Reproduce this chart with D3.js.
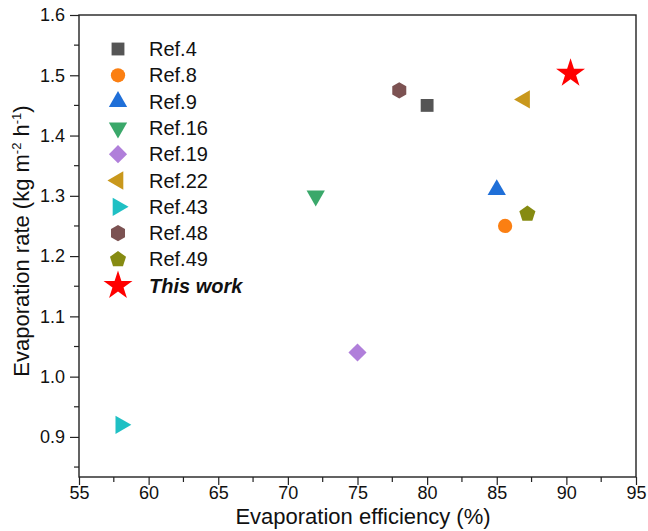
<!DOCTYPE html>
<html lang="en">
  <head>
    <meta charset="utf-8">
    <title>Evaporation rate vs efficiency</title>
    <script src="https://cdn.jsdelivr.net/npm/d3@7"></script>
    <style>
      body { margin: 0; background: #fff; }
      svg text { font-family: "Liberation Sans", Arial, sans-serif; fill: #111; }
      .axis path, .axis line { stroke: #222; stroke-width: 1.2px; }
      .axis text { font-size: 18px; }
    </style>
  </head>
  <body>
    <svg id="chart" width="648" height="531"></svg>
    <script>
      // data
      var labels = ["Ref.4", "Ref.8", "Ref.9", "Ref.16", "Ref.19", "Ref.22", "Ref.43", "Ref.48", "Ref.49", "This work"];
      var efficiency = [80, 85.6, 85, 72, 75, 87, 58, 78, 87.2, 90.3];
      var rate = [1.45, 1.25, 1.31, 1.30, 1.04, 1.46, 0.92, 1.475, 1.27, 1.503];
      var colors = ["#555555", "#fb7f12", "#1f6fd8", "#3aa86a", "#b07fda", "#c9981c", "#1fc0c4", "#7c5252", "#868b12", "#ff0000"];
      var shapes = ["square", "circle", "up", "down", "diamond", "left", "right", "hexagon", "pentagon", "star"];
      var xTicks = [55, 60, 65, 70, 75, 80, 85, 90, 95];
      var yTicks = [0.9, 1.0, 1.1, 1.2, 1.3, 1.4, 1.5, 1.6];

      var margin = {top: 15, right: 12, bottom: 54, left: 79},
          width = 648 - margin.left - margin.right,
          height = 531 - margin.top - margin.bottom;

      var svg = d3.select("#chart");
      var g = svg.append("g")
          .attr("transform", "translate(" + margin.left + "," + margin.top + ")");

      var x = d3.scaleLinear().domain([55, 95]).range([0, width]);
      var y = d3.scaleLinear().domain([0.8335, 1.6]).range([height, 0]);

      // custom polygon symbols
      function polygon(n, rot) {
        return {
          draw: function(ctx, size) {
            var r = Math.sqrt(size / (0.5 * n * Math.sin(2 * Math.PI / n)));
            for (var i = 0; i < n; i++) {
              var a = rot + i * 2 * Math.PI / n;
              if (i === 0) ctx.moveTo(r * Math.cos(a), r * Math.sin(a));
              else ctx.lineTo(r * Math.cos(a), r * Math.sin(a));
            }
            ctx.closePath();
          }
        };
      }

      var symbolDefs = {
        square:   {type: d3.symbolSquare, size: 165, rot: 0},
        circle:   {type: d3.symbolCircle, size: 160, rot: 0},
        up:       {type: d3.symbolTriangle, size: 145, rot: 0},
        down:     {type: d3.symbolTriangle, size: 145, rot: 180},
        diamond:  {type: d3.symbolSquare, size: 165, rot: 45},
        left:     {type: d3.symbolTriangle, size: 145, rot: -90},
        right:    {type: d3.symbolTriangle, size: 145, rot: 90},
        hexagon:  {type: polygon(6, Math.PI / 2), size: 170, rot: 0},
        pentagon: {type: polygon(5, -Math.PI / 2), size: 170, rot: 0},
        star:     {type: d3.symbolStar, size: 260, rot: 0}
      };

      function drawSymbol(sel, i) {
        var s = symbolDefs[shapes[i]];
        sel.attr("d", d3.symbol().type(s.type).size(s.size)())
          .attr("fill", colors[i]);
        return s.rot;
      }

      // frame
      g.append("rect")
          .attr("width", width).attr("height", height)
          .attr("fill", "none").attr("stroke", "#222").attr("stroke-width", 1.4);

      // minor ticks
      var xMinor = d3.range(57.5, 95, 5);
      g.selectAll(".xminor").data(xMinor).enter().append("line")
          .attr("x1", function(d) { return x(d); }).attr("x2", function(d) { return x(d); })
          .attr("y1", height).attr("y2", height + 5)
          .attr("stroke", "#222").attr("stroke-width", 1.2);
      var yMinor = d3.range(0.85, 1.6, 0.1);
      g.selectAll(".yminor").data(yMinor).enter().append("line")
          .attr("x1", -5).attr("x2", 0)
          .attr("y1", function(d) { return y(d); }).attr("y2", function(d) { return y(d); })
          .attr("stroke", "#222").attr("stroke-width", 1.2);

      g.append("g").attr("class", "axis")
          .attr("transform", "translate(0," + height + ")")
          .call(d3.axisBottom(x).tickValues(xTicks).tickSize(8).tickPadding(1).tickSizeOuter(0))
          .call(function(a) { a.select(".domain").remove(); });

      g.append("g").attr("class", "axis")
          .call(d3.axisLeft(y).tickValues(yTicks).tickFormat(d3.format(".1f")).tickSize(9).tickPadding(5).tickSizeOuter(0))
          .call(function(a) { a.select(".domain").remove(); });

      // points
      efficiency.forEach(function(e, i) {
        var p = g.append("path");
        var rot = drawSymbol(p, i);
        p.attr("transform", "translate(" + x(e) + "," + y(rate[i]) + ") rotate(" + rot + ")");
      });

      // legend
      var legend = g.append("g").attr("transform", "translate(39,34)");
      labels.forEach(function(l, i) {
        var row = legend.append("g").attr("transform", "translate(0," + (i * 26.3) + ")");
        var p = row.append("path");
        var rot = drawSymbol(p, i);
        p.attr("transform", "rotate(" + rot + ")");
        row.append("text")
            .attr("x", 31).attr("y", 7)
            .style("font-size", "20px")
            .style("font-weight", i === labels.length - 1 ? "bold" : "normal")
            .style("font-style", i === labels.length - 1 ? "italic" : "normal")
            .text(l);
      });

      // axis titles
      svg.append("text")
          .attr("x", 363).attr("y", 524)
          .attr("text-anchor", "middle")
          .style("font-size", "22px")
          .text("Evaporation efficiency (%)");

      var yt = svg.append("text")
          .attr("transform", "translate(29,241) rotate(-90)")
          .attr("text-anchor", "middle")
          .style("font-size", "22px");
      yt.append("tspan").text("Evaporation rate (kg m");
      yt.append("tspan").attr("dy", -8).style("font-size", "13px").text("-2");
      yt.append("tspan").attr("dy", 8).text(" h");
      yt.append("tspan").attr("dy", -8).style("font-size", "13px").text("-1");
      yt.append("tspan").attr("dy", 8).text(")");
    </script>
  </body>
</html>
